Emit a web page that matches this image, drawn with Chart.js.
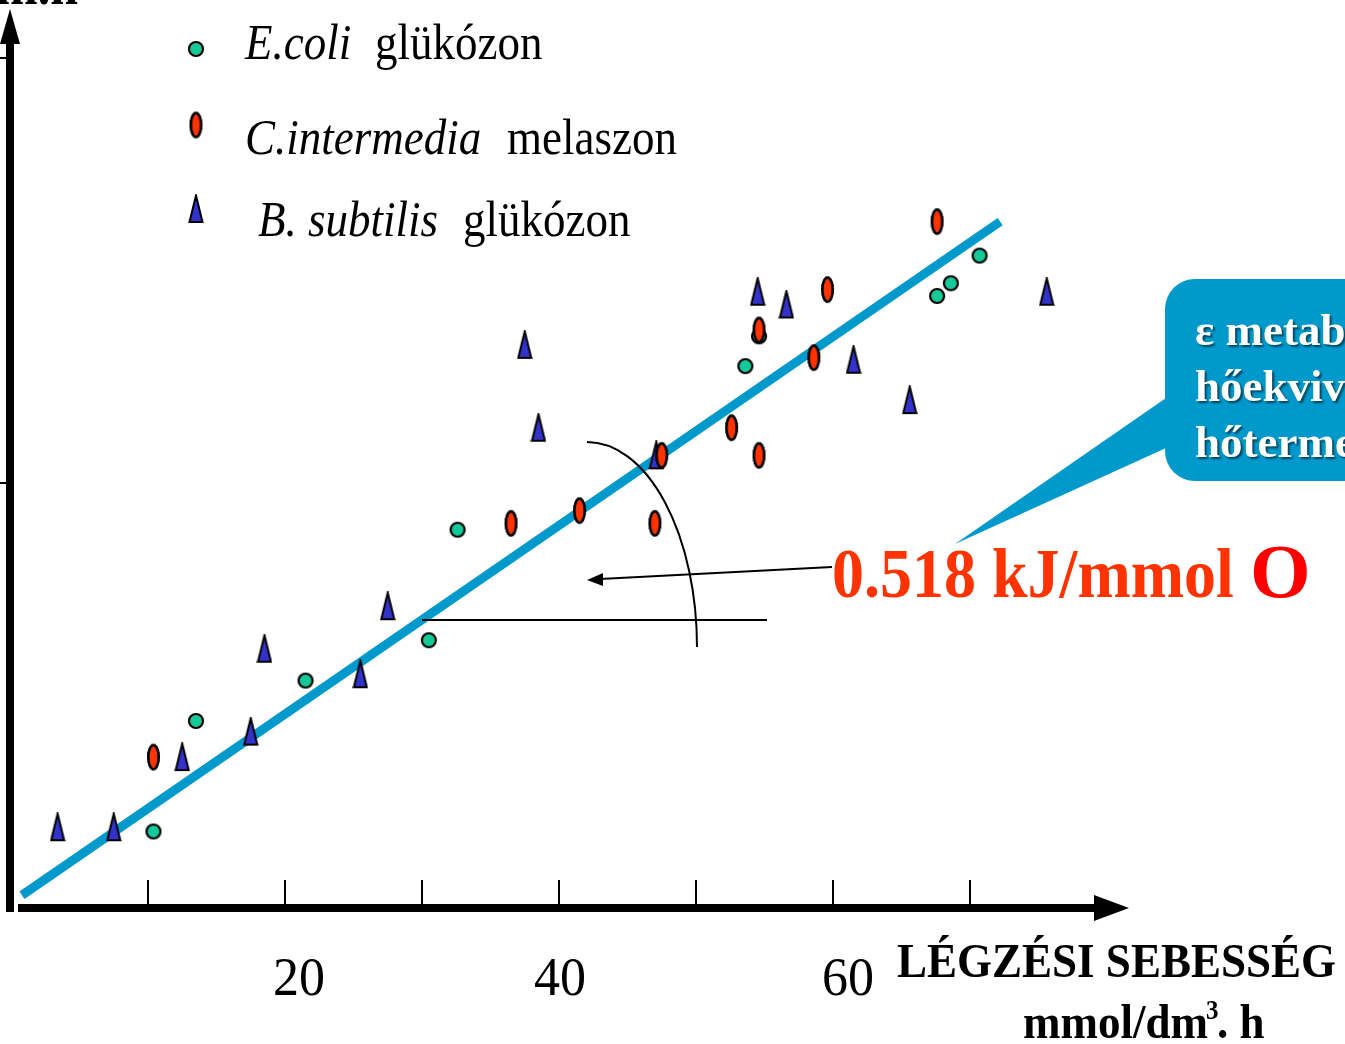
<!DOCTYPE html>
<html>
<head>
<meta charset="utf-8">
<script src="https://cdn.jsdelivr.net/npm/chart.js@4.4.0/dist/chart.umd.min.js"></script>
<style>
  html, body { margin: 0; padding: 0; background: #fff; overflow: hidden; }
</style>
</head>
<body>
<canvas id="chart" width="1345" height="1044"></canvas>
<script>
// légzési sebesség (mmol/dm3.h) és hőtermelés
const ecoliX = [10.4, 13.5, 21.5, 30.5, 32.6, 53.6, 54.6, 67.6, 68.6, 70.7];
const ecoliY = [3.6, 8.8, 10.7, 12.6, 17.8, 25.5, 26.9, 28.8, 29.4, 30.7];

const cintX = [10.4, 36.5, 41.5, 47.0, 47.5, 52.6, 54.6, 54.6, 58.6, 59.6, 67.6];
const cintY = [7.1, 18.1, 18.7, 18.1, 21.3, 22.6, 21.3, 27.2, 25.9, 29.1, 32.3];

const bsubX = [3.4, 7.5, 12.5, 17.5, 18.5, 25.5, 27.5, 37.5, 38.5, 47.1, 54.5, 56.6, 61.5, 65.6, 75.6];
const bsubY = [3.8, 3.8, 7.1, 8.3, 12.2, 11.0, 14.2, 26.5, 22.6, 21.3, 29.0, 28.4, 25.8, 23.9, 29.0];

// illesztett egyenes: meredekség 0.518 kJ/mmol O
const fitX = [0.8, 72.2];
const fitY = [0.6, 32.3];

const xTicks = [10, 20, 30, 40, 50, 60, 70];
const xTickLabels = ['20', '40', '60'];
const yTicks = [20, 40];

function toPoints(xs, ys) {
    return xs.map((x, i) => ({ x: x, y: ys[i] }));
}

// pont jelölők (kör, ovális, háromszög)
function makeCircle() {
    const c = document.createElement('canvas');
    c.width = 18; c.height = 18;
    const g = c.getContext('2d');
    g.beginPath();
    g.arc(9, 9, 7, 0, Math.PI * 2);
    g.fillStyle = '#16c998';
    g.fill();
    g.lineWidth = 2.2;
    g.strokeStyle = '#000';
    g.stroke();
    return c;
}
function makeOval() {
    const c = document.createElement('canvas');
    c.width = 17; c.height = 31;
    const g = c.getContext('2d');
    g.beginPath();
    g.ellipse(8.5, 15.5, 5.2, 12, 0, 0, Math.PI * 2);
    g.fillStyle = '#ff3300';
    g.fill();
    g.lineWidth = 2.6;
    g.strokeStyle = '#000';
    g.stroke();
    g.beginPath();
    g.ellipse(8.5, 15.5, 5.8, 12.6, 0, 0, Math.PI * 2);
    g.lineWidth = 1.4;
    g.setLineDash([1.5, 1.5]);
    g.stroke();
    return c;
}
function makeTriangle() {
    const c = document.createElement('canvas');
    c.width = 16; c.height = 30;
    const g = c.getContext('2d');
    g.beginPath();
    g.moveTo(8, 1.5);
    g.lineTo(14.5, 28);
    g.lineTo(1.5, 28);
    g.closePath();
    g.fillStyle = '#3333cc';
    g.fill();
    g.lineWidth = 2;
    g.strokeStyle = '#000';
    g.stroke();
    return c;
}
const circleImg = makeCircle();
const ovalImg = makeOval();
const triImg = makeTriangle();

function txt(ctx, s, x, y, font, color, sy, align) {
    ctx.save();
    ctx.font = font;
    ctx.fillStyle = color;
    ctx.textAlign = align || 'left';
    ctx.textBaseline = 'alphabetic';
    ctx.translate(x, y);
    ctx.scale(1, sy || 1);
    ctx.fillText(s, 0, 0);
    const w = ctx.measureText(s).width;
    ctx.restore();
    return w;
}

const SERIF = '"Liberation Serif", "Times New Roman", serif';

const decoPlugin = {
    id: 'deco',
    beforeDatasetsDraw(chart) {
        const ctx = chart.ctx;
        const xs = chart.scales.x, ys = chart.scales.y;
        const x0 = xs.getPixelForValue(0) - 1;
        const y0 = ys.getPixelForValue(0);
        ctx.save();
        ctx.fillStyle = '#000';
        ctx.strokeStyle = '#000';

        // y tengely nyíllal
        ctx.fillRect(x0 - 4, 40, 8, y0 + 4 - 40);
        ctx.beginPath();
        ctx.moveTo(x0, 9);
        ctx.lineTo(x0 + 10, 44);
        ctx.lineTo(x0 - 10, 44);
        ctx.closePath();
        ctx.fill();

        // x tengely nyíllal
        ctx.fillRect(18, y0 - 4, 1098 - 18, 8);
        ctx.beginPath();
        ctx.moveTo(1129, y0);
        ctx.lineTo(1094, y0 - 13);
        ctx.lineTo(1094, y0 + 13);
        ctx.closePath();
        ctx.fill();

        // osztások
        ctx.lineWidth = 2;
        xTicks.forEach(v => {
            const px = Math.round(xs.getPixelForValue(v));
            ctx.beginPath();
            ctx.moveTo(px, y0 - 28);
            ctx.lineTo(px, y0 - 3);
            ctx.stroke();
        });
        yTicks.forEach(v => {
            const py = Math.round(ys.getPixelForValue(v));
            ctx.beginPath();
            ctx.moveTo(0, py);
            ctx.lineTo(x0 - 3, py);
            ctx.stroke();
        });
        ctx.restore();
    },
    afterDatasetsDraw(chart) {
        const ctx = chart.ctx;
        const xs = chart.scales.x;

        // tengelyfeliratok
        const nudge = [14, 1, 15];
        xTickLabels.forEach((l, i) => {
            const px = xs.getPixelForValue(Number(l)) + nudge[i];
            txt(ctx, l, px, 995, '52px ' + SERIF, '#000', 1.06, 'center');
        });
        txt(ctx, 'LÉGZÉSI SEBESSÉG', 897, 977, 'bold 45px ' + SERIF, '#000', 1.08);
        let w = txt(ctx, 'mmol/dm', 1023, 1038, 'bold 45px ' + SERIF, '#000', 1.08);
        txt(ctx, '3', 1023 + w - 2, 1019, 'bold 25px ' + SERIF, '#000', 1.1);
        txt(ctx, '. h', 1023 + w + 9, 1038, 'bold 45px ' + SERIF, '#000', 1.08);
        txt(ctx, 'm.h', -4, 4, 'bold 50px ' + SERIF, '#000', 1.12);

        // jelmagyarázat
        ctx.drawImage(circleImg, 196 - 9, 49 - 9);
        ctx.drawImage(ovalImg, 196 - 8.5, 125 - 15.5);
        ctx.drawImage(triImg, 196 - 8, 209 - 15);
        txt(ctx, 'E.coli', 245, 59, 'italic 45px ' + SERIF, '#000', 1.12);
        txt(ctx, 'glükózon', 375, 59, '45px ' + SERIF, '#000', 1.12);
        txt(ctx, 'C.intermedia', 245, 154, 'italic 45px ' + SERIF, '#000', 1.12);
        txt(ctx, 'melaszon', 507, 154, '45px ' + SERIF, '#000', 1.12);
        txt(ctx, 'B. subtilis', 258, 236, 'italic 45px ' + SERIF, '#000', 1.12);
        txt(ctx, 'glükózon', 463, 236, '45px ' + SERIF, '#000', 1.12);

        // szögjelölés
        ctx.save();
        ctx.strokeStyle = '#000';
        ctx.fillStyle = '#000';
        ctx.lineWidth = 2;
        ctx.beginPath();
        ctx.moveTo(422, 620);
        ctx.lineTo(767, 620);
        ctx.stroke();
        ctx.beginPath();
        ctx.ellipse(587, 647, 110, 205, 0, -Math.PI / 2, 0);
        ctx.stroke();
        ctx.beginPath();
        ctx.moveTo(832, 567);
        ctx.lineTo(600, 579);
        ctx.stroke();
        ctx.beginPath();
        ctx.moveTo(587, 580);
        ctx.lineTo(603, 573);
        ctx.lineTo(603, 586);
        ctx.closePath();
        ctx.fill();
        ctx.restore();

        txt(ctx, '0.518 kJ/mmol', 832, 597, 'bold 64px ' + SERIF, '#ff3300', 1.08);
        txt(ctx, 'O', 1250, 597, 'bold 78px ' + SERIF, '#ff0000', 0.98);

        // szövegbuborék
        ctx.save();
        ctx.fillStyle = '#0099cc';
        ctx.beginPath();
        ctx.moveTo(1166, 398);
        ctx.lineTo(955, 544);
        ctx.lineTo(1166, 448);
        ctx.closePath();
        ctx.fill();
        ctx.beginPath();
        ctx.roundRect(1165, 279, 260, 202, 30);
        ctx.fill();
        ctx.shadowColor = 'rgba(0,0,0,0.55)';
        ctx.shadowOffsetX = 2;
        ctx.shadowOffsetY = 2;
        ctx.shadowBlur = 2;
        ['ε metabolikus', 'hőekvivalens', 'hőtermelés'].forEach((s, i) => {
            ctx.save();
            ctx.font = 'bold 45px ' + SERIF;
            ctx.fillStyle = '#fff';
            ctx.translate(1195, 345 + i * 56);
            ctx.fillText(s, 0, 0);
            ctx.restore();
        });
        ctx.restore();
    }
};

new Chart(document.getElementById('chart'), {
    type: 'scatter',
    data: {
        datasets: [
            { label: 'C.intermedia melaszon', data: toPoints(cintX, cintY), pointStyle: ovalImg, pointRadius: 8, clip: false },
            { label: 'B. subtilis glükózon', data: toPoints(bsubX, bsubY), pointStyle: triImg, pointRadius: 8, clip: false },
            { label: 'E.coli glükózon', data: toPoints(ecoliX, ecoliY), pointStyle: circleImg, pointRadius: 8, clip: false },
            {
                type: 'line', label: 'illesztés', data: toPoints(fitX, fitY),
                borderColor: '#0099cc', borderWidth: 9, pointRadius: 0,
                showLine: true, fill: false, borderCapStyle: 'butt', clip: false
            }
        ]
    },
    options: {
        responsive: false,
        animation: false,
        events: [],
        layout: { autoPadding: false, padding: { left: 11, right: 0, top: 0, bottom: 136 } },
        plugins: { legend: { display: false }, tooltip: { enabled: false } },
        scales: {
            x: { type: 'linear', min: 0, max: 1334 / 13.7, display: false },
            y: { type: 'linear', min: 0, max: 908 / 21.25, display: false }
        }
    },
    plugins: [decoPlugin]
});
</script>
</body>
</html>
